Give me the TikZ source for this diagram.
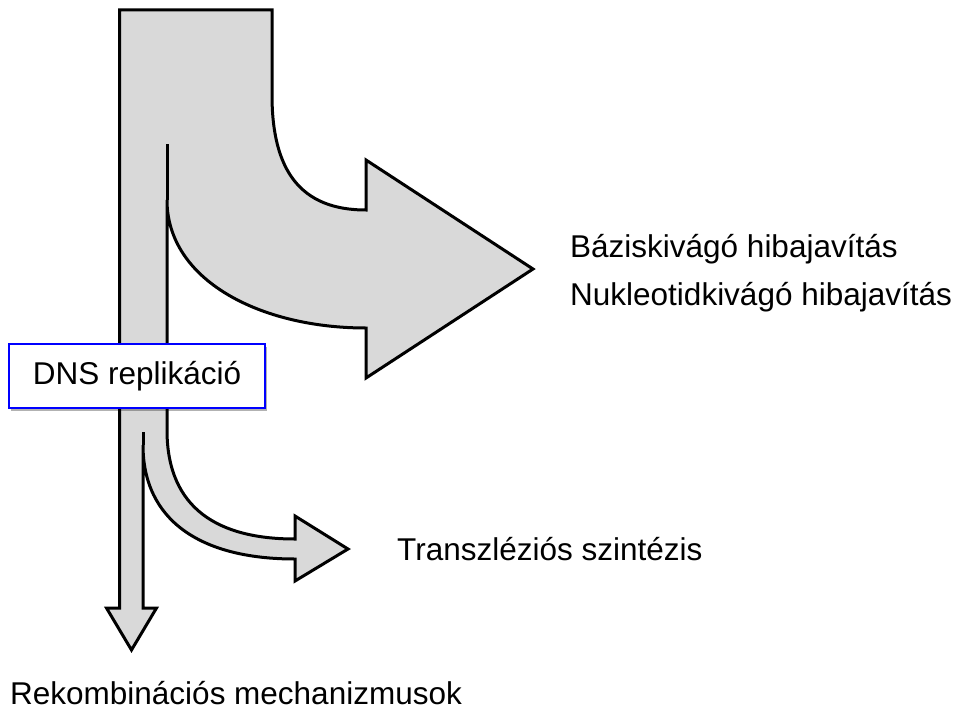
\documentclass[tikz,border=0pt]{standalone}
\usepackage{fontspec}
\setmainfont{Liberation Sans}
\usetikzlibrary{shadows}

\tikzset{
	flowarrow/.style={draw=black, line width=3pt, fill=black!15, line join=miter},
	flowslit/.style={draw=black, line width=3pt},
	outcome/.style={anchor=base west, inner sep=0pt, font=\fontsize{31.5}{38}\selectfont},
	stagebox/.style={draw=blue, line width=1.5pt, fill=white, minimum width=256pt, minimum height=64pt,
		inner sep=0pt, font=\fontsize{31.5}{38}\selectfont,
		drop shadow={shadow xshift=1.5pt, shadow yshift=-2.5pt, fill=black, opacity=0.3}}
}

\begin{document}
\begin{tikzpicture}[x=1pt, y=-1pt]
			%%%%% START %%%%%
			\useasboundingbox (0,0) rectangle (963,709);
			
			% the split arrow
			\draw[flowarrow] (119.5,10) -- (272,10) -- (272,95)
				.. controls (272,170) and (300,210) .. (366,210)
				-- (366,160) -- (533,269) -- (366,378) -- (366,328)
				.. controls (260,328) and (167,280) .. (167,200)
				-- (167,430)
				.. controls (167,510) and (220,539) .. (295,539)
				-- (295,516) -- (348,549) -- (295,581) -- (295,559)
				.. controls (200,559) and (143,520) .. (143,445)
				-- (143,608) -- (156.5,608) -- (131.5,650) -- (106.5,608) -- (119.5,608) -- cycle;
			\draw[flowslit] (167,144) -- (167,200);
			\draw[flowslit] (143,432) -- (143,445);
			
			% labels
			\node[stagebox] (dns) at (137,376) {DNS replikáció};
			\node[outcome] (ber) at (570,257) {Báziskivágó hibajavítás};
			\node[outcome] (ner) at (570,305) {Nukleotidkivágó hibajavítás};
			\node[outcome] (tls) at (397,560) {Transzléziós szintézis};
			\node[outcome, text depth=0pt] (hr) at (10,704) {Rekombinációs mechanizmusok};
			
			%%%%% END %%%%%
\end{tikzpicture}
\end{document}
